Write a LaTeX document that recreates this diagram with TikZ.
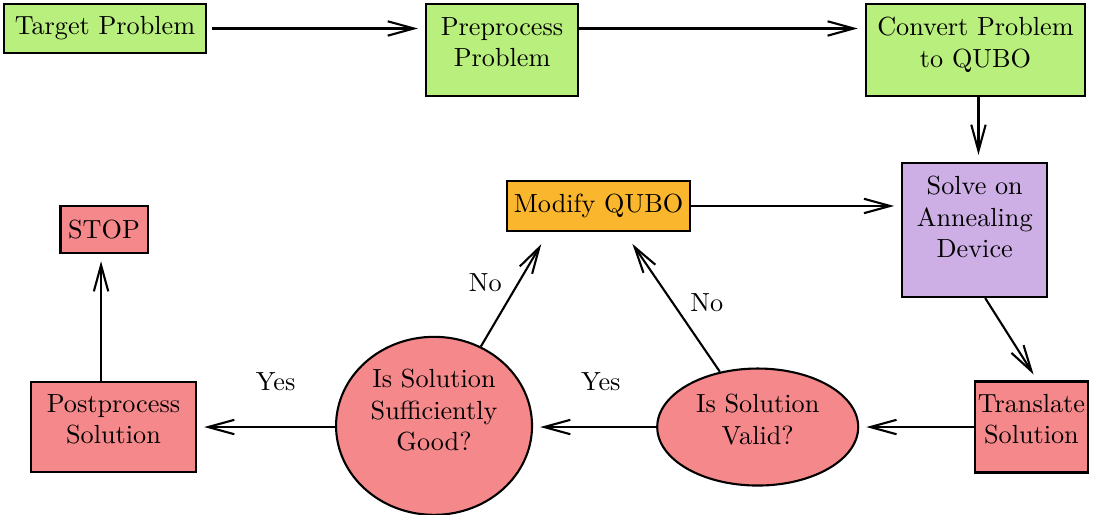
\documentclass[tikz,border=0pt]{standalone}
\usepackage{tikz}
\usetikzlibrary{positioning}
\usetikzlibrary{arrows.meta,shapes}
\usetikzlibrary{calc}

\definecolor{probgreen}{HTML}{B9EF7C}
\definecolor{annealpurple}{HTML}{CDAFE6}
\definecolor{modorange}{HTML}{FAB72D}
\definecolor{solred}{HTML}{F5888A}

\begin{document}
\begin{tikzpicture}[auto, thick,
  box/.style={draw, rectangle, align=center, inner xsep=1pt, inner ysep=2pt},
  decide/.style={draw, ellipse, align=center, inner sep=1pt, fill=solred},
  lifted/.style={text depth=6pt},
  flow/.style={-{Straight Barb[length=10pt,width=5.5pt]}, shorten >=2.7pt}]

 \useasboundingbox (0,0) rectangle (14.79,-6.893);

 %top row
 \node[box, fill=probgreen, minimum width=2.70cm, minimum height=0.657cm] (target) at (1.408,-0.382) {Target Problem};
 \node[box, lifted, fill=probgreen, minimum width=2.04cm, minimum height=1.234cm] (pre) at (6.732,-0.671) {Preprocess\\Problem};
 \node[box, lifted, fill=probgreen, minimum width=2.94cm, minimum height=1.234cm] (convert) at (13.08,-0.671) {Convert Problem\\to QUBO};

 %middle row
 \node[box, text depth=10pt, fill=annealpurple, minimum width=1.944cm, minimum height=1.797cm] (solve) at (13.07,-3.084) {Solve on\\Annealing\\Device};
 \node[box, fill=modorange, minimum width=2.454cm, minimum height=0.671cm] (modify) at (8.026,-2.762) {Modify QUBO};
 \node[box, fill=solred, minimum width=1.167cm, minimum height=0.630cm] (stop) at (1.395,-3.078) {STOP};

 %bottom row
 \node[box, lifted, fill=solred, minimum width=1.515cm, minimum height=1.22cm] (translate) at (13.83,-5.726) {Translate\\Solution};
 \node[decide, lifted, minimum width=2.695cm, minimum height=1.569cm] (valid) at (10.16,-5.726) {Is Solution\\Valid?};
 \node[decide, text depth=12pt, minimum width=2.628cm, minimum height=2.387cm] (suff) at (5.82,-5.71) {Is Solution\\Sufficiently\\Good?};
 \node[box, lifted, fill=solred, minimum width=2.213cm, minimum height=1.207cm] (post) at (1.522,-5.726) {Postprocess\\Solution};

 \coordinate (noleft) at ($(modify.south)+(-0.72,-0.08)$);
 \coordinate (noright) at ($(modify.south)+(0.40,-0.08)$);
 \coordinate (downline) at ($(convert.south)+(0.04,0)$);
 \coordinate (upline) at ($(stop.south)+(-0.04,0)$);

 %connectors
 \draw[flow, shorten <=2pt] (target.east) -- (target.east -| pre.west);
 \draw[flow] (pre.east |- target.east) -- (convert.west |- target.east);
 \draw[flow] (downline) -- (downline |- solve.north);
 \draw[flow] (modify.east) -- (modify.east -| solve.west);
 \draw[flow] ($(solve.south)+(0.14,0)$) -- ($(translate.north)+(0.08,0)$);
 \draw[flow] (translate) -- (valid);
 \draw[flow] (valid.west) -- node[above=10pt, pos=0.45] {Yes} (valid.west -| suff.east);
 \draw[flow] (post.east -| suff.west) -- node[above=10pt, pos=0.43] {Yes} (post.east);
 \draw[flow] (upline |- post.north) -- (upline);
 \draw[flow] (suff) -- node[left=2.6pt, pos=0.585] {No} (noleft);
 \draw[flow] (valid) -- node[right=3.2pt, pos=0.52, swap] {No} (noright);

\end{tikzpicture}
\end{document}
